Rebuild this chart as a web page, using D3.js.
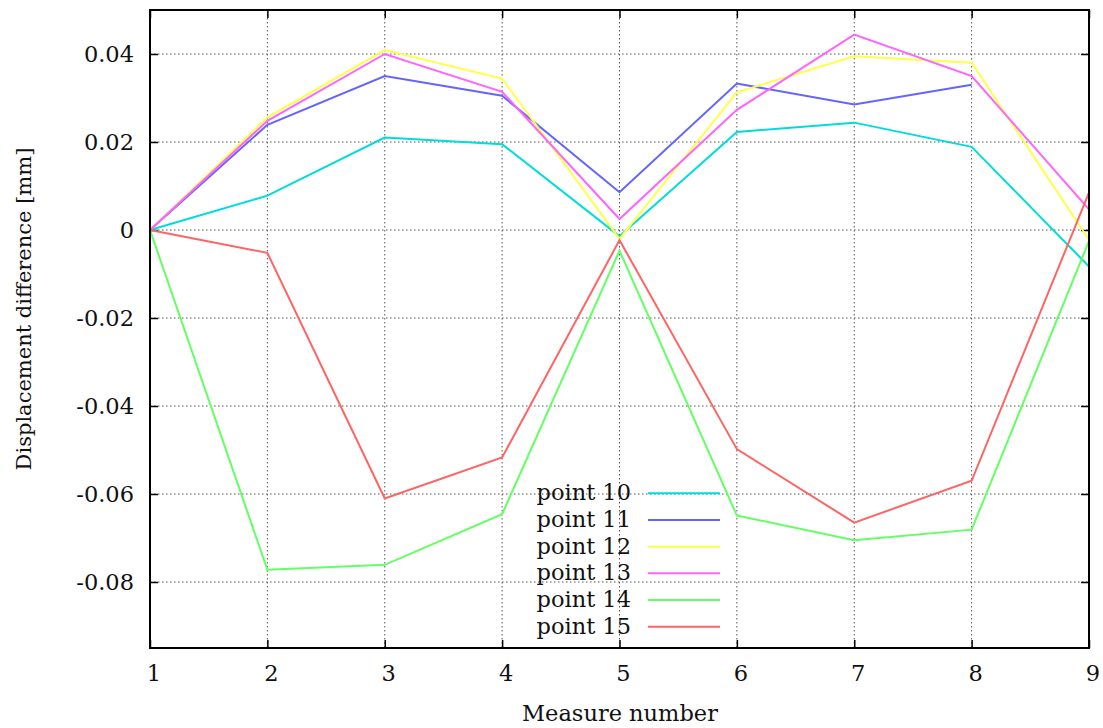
<!DOCTYPE html>
<html>
<head>
<meta charset="utf-8">
<script src="https://cdn.jsdelivr.net/npm/d3@7"></script>
<style>
  html, body { margin: 0; padding: 0; background: #fff; }
  svg { display: block; }
</style>
</head>
<body>
<svg id="chart" width="1103" height="728"></svg>
<script>
// Measure numbers along the x axis
const measures = [1, 2, 3, 4, 5, 6, 7, 8, 9];

// Displacement difference [mm] per measured point
const point10 = [0, 0.0078, 0.0210, 0.0195, -0.0014, 0.0223, 0.0244, 0.0189, -0.0083];
const point11 = [0, 0.0239, 0.0350, 0.0305, 0.0086, 0.0333, 0.0285, 0.0330, null];
const point12 = [0, 0.0256, 0.0409, 0.0344, -0.0020, 0.0313, 0.0395, 0.0380, -0.0022];
const point13 = [0, 0.0248, 0.0400, 0.0314, 0.0025, 0.0273, 0.0444, 0.0350, 0.0047];
const point14 = [0, -0.0772, -0.0761, -0.0646, -0.0047, -0.0649, -0.0705, -0.0681, -0.0025];
const point15 = [0, -0.0052, -0.0610, -0.0517, -0.0023, -0.0498, -0.0665, -0.0570, 0.0085];

const seriesNames = ["point 10", "point 11", "point 12", "point 13", "point 14", "point 15"];
const seriesColors = ["#00dcdc", "#6464ff", "#ffff46", "#ff64ff", "#64ff64", "#ff6464"];

// Tick values
const xTicks = [1, 2, 3, 4, 5, 6, 7, 8, 9];
const yTicks = [0.04, 0.02, 0, -0.02, -0.04, -0.06, -0.08];
const yTickLabels = ["0.04", "0.02", "0", "-0.02", "-0.04", "-0.06", "-0.08"];

const series = [point10, point11, point12, point13, point14, point15].map((vals, i) => ({
  name: seriesNames[i],
  color: seriesColors[i],
  values: measures.map((m, j) => ({ x: m, y: vals[j] }))
}));

const svg = d3.select("#chart");
const FONT = "'DejaVu Serif', serif";
const plot = { left: 150, right: 1089, top: 10, bottom: 648 };

const x = d3.scaleLinear().domain([1, 9]).range([plot.left, plot.right]);
const y = d3.scaleLinear().domain([-0.095, 0.05]).range([plot.bottom, plot.top]);

// Dotted grid
const grid = svg.append("g").attr("class", "grid")
  .attr("stroke", "#555").attr("stroke-width", 1).attr("stroke-dasharray", "1.5,2.5");
grid.selectAll("line.gx").data(xTicks.slice(1, -1)).join("line")
  .attr("x1", d => x(d)).attr("x2", d => x(d))
  .attr("y1", plot.top).attr("y2", plot.bottom);
grid.selectAll("line.gy").data(yTicks).join("line")
  .attr("x1", plot.left).attr("x2", plot.right)
  .attr("y1", d => y(d)).attr("y2", d => y(d));

// Axes with inward ticks, mirrored on the opposite side
const tickLen = 8;
const xAxisBottom = d3.axisTop(x).tickValues(xTicks).tickSize(tickLen).tickFormat("");
const xAxisTop = d3.axisBottom(x).tickValues(xTicks).tickSize(tickLen).tickFormat("");
const yAxisLeft = d3.axisRight(y).tickValues(yTicks).tickSize(tickLen).tickFormat("");
const yAxisRight = d3.axisLeft(y).tickValues(yTicks).tickSize(tickLen).tickFormat("");

function styleAxis(g) {
  g.select(".domain").remove();
  g.selectAll(".tick line").attr("stroke", "#000").attr("stroke-width", 1.5);
}
svg.append("g").attr("transform", `translate(0,${plot.bottom})`).call(xAxisBottom).call(styleAxis);
svg.append("g").attr("transform", `translate(0,${plot.top})`).call(xAxisTop).call(styleAxis);
svg.append("g").attr("transform", `translate(${plot.left},0)`).call(yAxisLeft).call(styleAxis);
svg.append("g").attr("transform", `translate(${plot.right},0)`).call(yAxisRight).call(styleAxis);

// Shared text styling
function label(sel, size = 22.5) {
  return sel.attr("font-family", FONT).attr("font-size", size)
    .attr("font-weight", 300).attr("fill", "#111");
}

// Tick labels
svg.append("g").selectAll("text").data(xTicks).join("text")
  .call(label)
  .attr("x", d => x(d) + 4).attr("y", 681)
  .attr("text-anchor", "middle")
  .text(d => d);
svg.append("g").selectAll("text").data(yTicks).join("text")
  .call(label)
  .attr("x", plot.left - 16).attr("y", d => y(d) + 8)
  .attr("text-anchor", "end")
  .text((d, i) => yTickLabels[i]);

// Axis titles
svg.append("text").call(label)
  .attr("x", 620).attr("y", 721)
  .attr("text-anchor", "middle")
  .text("Measure number");
svg.append("text").call(label, 21)
  .attr("transform", "translate(31,309) rotate(-90)")
  .attr("text-anchor", "middle")
  .text("Displacement difference [mm]");

// Data lines
const line = d3.line()
  .defined(d => d.y !== null)
  .x(d => x(d.x)).y(d => y(d.y));
svg.append("g").selectAll("path").data(series).join("path")
  .attr("fill", "none")
  .attr("stroke", d => d.color)
  .attr("stroke-width", 2)
  .attr("d", d => line(d.values));

// Legend
const legend = svg.append("g");
const rows = legend.selectAll("g").data(series).join("g")
  .attr("transform", (d, i) => `translate(0,${493.3 + i * 26.67})`);
rows.append("text").call(label)
  .attr("x", 631).attr("y", 7)
  .attr("text-anchor", "end")
  .text(d => d.name);
rows.append("line")
  .attr("x1", 648).attr("x2", 720).attr("y1", 0).attr("y2", 0)
  .attr("stroke", d => d.color).attr("stroke-width", 2);

// Plot frame
svg.append("rect")
  .attr("x", plot.left).attr("y", plot.top)
  .attr("width", plot.right - plot.left).attr("height", plot.bottom - plot.top)
  .attr("fill", "none").attr("stroke", "#000").attr("stroke-width", 2);
</script>
</body>
</html>
